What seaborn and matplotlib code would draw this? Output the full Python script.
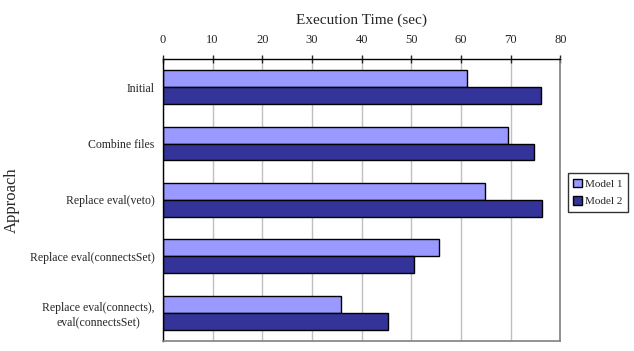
import pandas as pd
import numpy as np
import matplotlib
matplotlib.use("Agg")
import matplotlib.pyplot as plt
import seaborn as sns

# valeurs
approches = ["Initial", "Combine files", "Replace eval(veto)",
             "Replace eval(connectsSet)", "Replace eval(connects),\neval(connectsSet)"]
model1 = [61.1, 69.4, 64.9, 55.5, 35.9]
model2 = [76.0, 74.7, 76.3, 50.5, 45.2]
modeles = ["Model 1", "Model 2"]
couleurs = ["#9999FF", "#333399"]

df = pd.DataFrame({
    "approche": approches * 2,
    "temps": model1 + model2,
    "modele": [modeles[0]] * len(approches) + [modeles[1]] * len(approches),
})

sns.set_style("white")
plt.rcParams["font.family"] = ["Liberation Serif", "DejaVu Serif"]

fig = plt.figure(figsize=(6.34, 3.51), dpi=100)
ax = fig.add_axes([0.257, 0.029, 0.627, 0.803])

sns.barplot(data=df, x="temps", y="approche", hue="modele", orient="h",
            palette=couleurs, saturation=1, width=0.6, edgecolor="black",
            linewidth=1, ax=ax, legend=True)

ax.set_xlim(0, 80)
ax.set_ylim(len(approches) - 0.5, -0.5)
ax.set_xticks(np.arange(0, 81, 10))
ax.xaxis.tick_top()
ax.xaxis.set_label_position("top")
ax.set_xlabel("Execution Time (sec)", fontsize=11, labelpad=8)
ax.set_ylabel("Approach", fontsize=12)
ax.yaxis.set_label_coords(-0.36, 0.5)
ax.tick_params(axis="x", labelsize=9, length=6, direction="inout", width=1, pad=6)
ax.tick_params(axis="y", which="major", labelsize=8.5, length=0, pad=6)
for lab in ax.get_yticklabels():
    lab.set_multialignment("center")
ax.set_yticks(np.arange(-0.5, len(approches), 1), minor=True)
ax.tick_params(axis="y", which="minor", length=4, width=1, direction="out")

ax.grid(axis="x", color="#C0C0C0", linewidth=1)
ax.set_axisbelow(True)
for s in ["left", "top"]:
    ax.spines[s].set_color("black")
    ax.spines[s].set_linewidth(1)
for s in ["right", "bottom"]:
    ax.spines[s].set_color("#808080")
    ax.spines[s].set_linewidth(1.2)

leg = ax.legend(loc="upper left", bbox_to_anchor=(1.018, 0.595), fontsize=8,
                frameon=True, fancybox=False, edgecolor="black",
                handlelength=0.75, handleheight=0.75, handletextpad=0.35,
                borderpad=0.5, labelspacing=0.7, borderaxespad=0)
leg.get_frame().set_linewidth(1)

fig.savefig("out.png", dpi=100)
